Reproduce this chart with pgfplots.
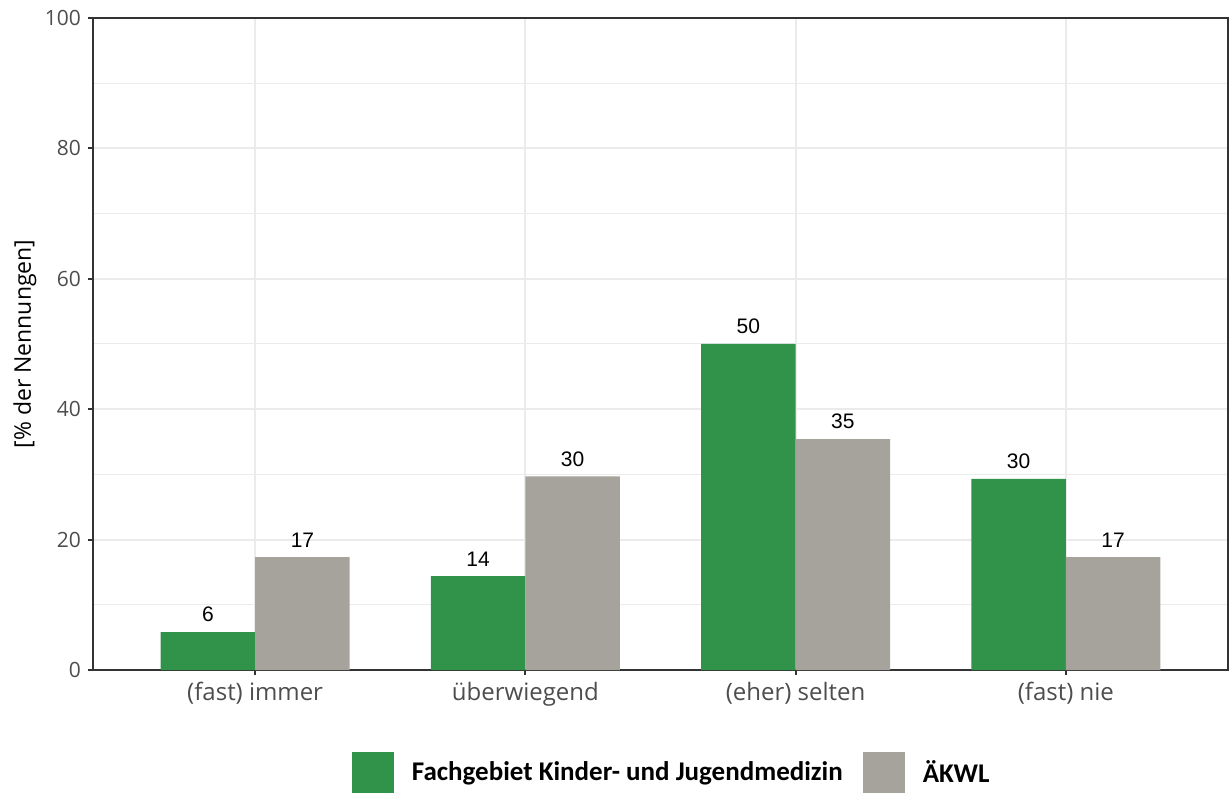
\documentclass[border=0pt]{standalone}
\usepackage{pgfplots}
\usepackage{pgfplotstable}
\pgfplotsset{compat=1.18}
\usepackage{fontspec}
\setmainfont{Open Sans}
\newfontfamily\labfont{Liberation Sans}
\newfontfamily\legfont{Carlito}
\definecolor{ggreen}{HTML}{31934A}
\definecolor{ggrey}{HTML}{A6A39C}
\definecolor{gridc}{HTML}{EBEBEB}
\definecolor{axc}{HTML}{333333}
\definecolor{tickc}{HTML}{4D4D4D}

% bar heights, printed labels
\pgfplotstableread{
x y lab
1 5.8 6
2 14.4 14
3 50.0 50
4 29.3 30
}\fach
\pgfplotstableread{
x y lab
1 17.3 17
2 29.7 30
3 35.4 35
4 17.3 17
}\aekwl

\begin{document}
\begin{tikzpicture}
\begin{axis}[
  at={(0,0)}, anchor=south west,
  width=567.5pt, height=326pt, scale only axis,
  xmin=0.4, xmax=4.6, ymin=0, ymax=100,
  xtick={1,2,3,4},
  xticklabels={(fast) immer, überwiegend, (eher) selten, (fast) nie},
  ytick={0,20,...,100},
  minor ytick={10,30,...,90},
  minor tick length=0pt,
  major tick length=2.5pt,
  tick align=outside,
  tick pos=left,
  tick style={axc, line width=0.9pt},
  grid=both,
  major grid style={gridc, line width=1pt},
  minor grid style={gridc, line width=0.5pt},
  axis line style={axc, line width=0.9pt},
  /pgf/number format/assume math mode=true,
  xticklabel style={font=\fontsize{12}{14}\selectfont, text=tickc},
  yticklabel style={font=\fontsize{10.5}{12}\selectfont, text=tickc},
  ylabel={[\% der Nennungen]},
  every axis y label/.style={at={(rel axis cs:0,0.5)}, rotate=90, anchor=center,
    yshift=34pt, font=\fontsize{11.5}{14}\selectfont, text=black},
  ybar, bar width=0.35,
  nodes near coords,
  point meta=explicit symbolic,
  every node near coord/.append style={font=\labfont\fontsize{10.5}{12}\selectfont,
    text=black, yshift=1.5pt},
  legend columns=2,
  legend style={at={(rel axis cs:0,0)}, anchor=west, xshift=129.25pt, yshift=-51.5pt,
    draw=none, fill=none, inner sep=0pt,
    font=\legfont\bfseries\fontsize{13.5}{16}\selectfont,
    nodes={inner sep=0pt},
    /tikz/every odd column/.append style={column sep=9pt},
    /tikz/every even column/.append style={column sep=10pt}},
]
\addplot[fill=ggreen, draw=none, bar shift=-0.175,
  legend image code/.code={\fill[ggreen] (0pt,-10.5pt) rectangle (21pt,10.5pt);}]
  table[x=x, y=y, meta=lab]{\fach};
\addplot[fill=ggrey, draw=none, bar shift=0.175,
  legend image code/.code={\fill[ggrey] (0pt,-10.5pt) rectangle (21pt,10.5pt);}]
  table[x=x, y=y, meta=lab]{\aekwl};
\legend{Fachgebiet Kinder- und Jugendmedizin, ÄKWL}
\end{axis}
\pgfresetboundingbox
\path (-46.5pt,-61pt) rectangle (568pt,335pt);
\end{tikzpicture}
\end{document}
